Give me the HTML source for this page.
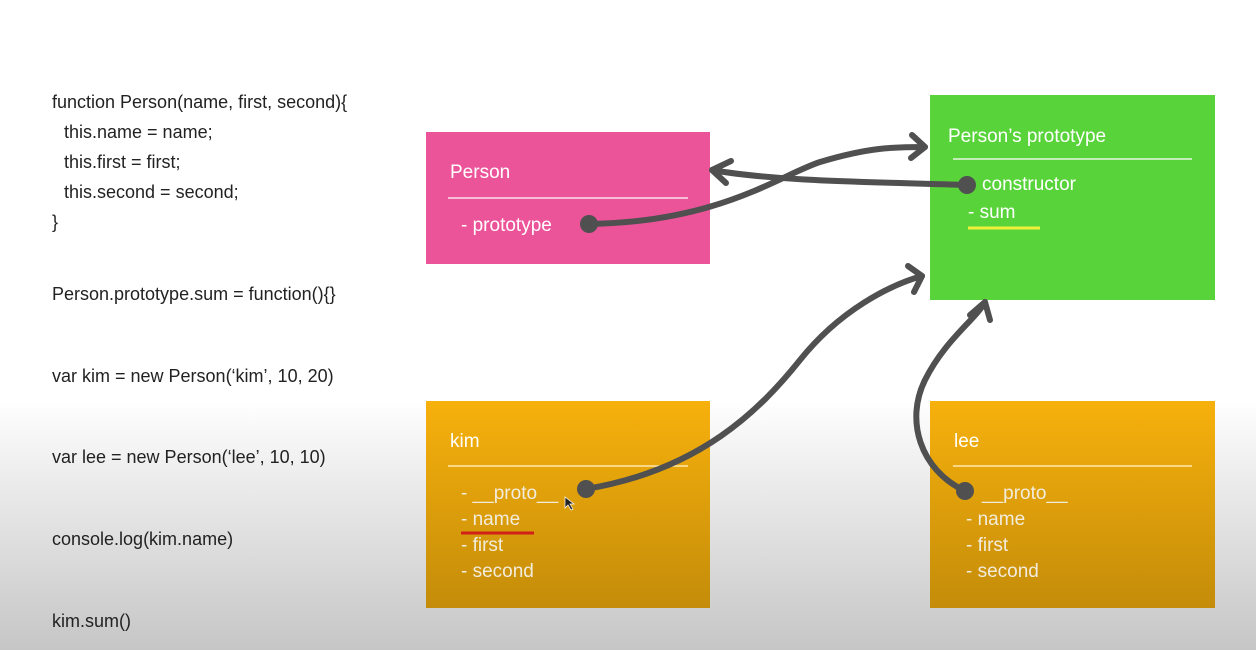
<!DOCTYPE html>
<html><head><meta charset="utf-8">
<style>
html,body{margin:0;padding:0;}
body{width:1256px;height:650px;overflow:hidden;background:linear-gradient(to bottom,#fff 0,#fff 400px,#ececec 480px,#c6c6c6 650px);font-family:"Liberation Sans",sans-serif;}
svg{position:absolute;left:0;top:0;}
</style></head><body>
<svg width="1256" height="650" viewBox="0 0 1256 650" font-family="Liberation Sans, sans-serif">
<defs>
<linearGradient id="og" x1="0" y1="0" x2="0" y2="1">
<stop offset="0" stop-color="#f7b10c"/><stop offset="1" stop-color="#c48c0a"/>
</linearGradient>
</defs>
<g font-size="18" fill="#222">
<text x="52" y="108">function Person(name, first, second){</text>
<text x="64" y="138">this.name = name;</text>
<text x="64" y="168">this.first = first;</text>
<text x="64" y="198">this.second = second;</text>
<text x="52" y="228">}</text>
<text x="52" y="300">Person.prototype.sum = function(){}</text>
<text x="52" y="382">var kim = new Person(‘kim’, 10, 20)</text>
<text x="52" y="463">var lee = new Person(‘lee’, 10, 10)</text>
<text x="52" y="545">console.log(kim.name)</text>
<text x="52" y="627">kim.sum()</text>
</g>
<!-- Person -->
<rect x="426" y="132" width="284" height="132" fill="#ec5499"/>
<text x="450" y="178" font-size="19" fill="#fff">Person</text>
<line x1="448" y1="198" x2="688" y2="198" stroke="#fbe0ec" stroke-width="1.5"/>
<text x="461" y="231" font-size="19" fill="#fff">- prototype</text>
<!-- Proto -->
<rect x="930" y="95" width="285" height="205" fill="#58d43a"/>
<text x="948" y="142" font-size="19" fill="#fff">Person’s prototype</text>
<line x1="953" y1="159" x2="1192" y2="159" stroke="#e6f8e0" stroke-width="1.5"/>
<text x="982" y="190" font-size="19" fill="#fff">constructor</text>
<text x="968" y="218" font-size="19" fill="#fff">- sum</text>
<line x1="968" y1="228" x2="1040" y2="228" stroke="#eef03a" stroke-width="3"/>
<!-- kim -->
<rect x="426" y="401" width="284" height="207" fill="url(#og)"/>
<text x="450" y="447" font-size="19" fill="#fff">kim</text>
<line x1="448" y1="466" x2="688" y2="466" stroke="#fde9b0" stroke-width="1.5"/>
<g font-size="19" fill="#f2ecdc">
<text x="461" y="499">- __proto__</text>
<text x="461" y="525">- name</text>
<text x="461" y="551">- first</text>
<text x="461" y="577">- second</text>
</g>
<line x1="461" y1="533" x2="534" y2="533" stroke="#d0201a" stroke-width="3"/>
<path d="M565 497 l0 11 l3 -3 l3 5 l2 -1 l-3 -5 l4 0 z" fill="#222" stroke="#fff" stroke-width="0.7"/>
<!-- lee -->
<rect x="930" y="401" width="285" height="207" fill="url(#og)"/>
<text x="954" y="447" font-size="19" fill="#fff">lee</text>
<line x1="953" y1="466" x2="1192" y2="466" stroke="#fde9b0" stroke-width="1.5"/>
<g font-size="19" fill="#f2ecdc">
<text x="982" y="499">__proto__</text>
<text x="966" y="525">- name</text>
<text x="966" y="551">- first</text>
<text x="966" y="577">- second</text>
</g>
<!-- connectors -->
<g stroke="#505050" stroke-width="6" fill="none" stroke-linecap="round" stroke-linejoin="round">
<path d="M589 224 C720 222 780 175 820 162 C870 147 895 147 925 147"/>
<path d="M912 135 L925 147 L911 158"/>
<path d="M966 185 C880 182 780 182 712 170"/>
<path d="M731 161 L712 170 L726 183"/>
<path d="M586 489 C700 470 760 410 800 360 C840 310 890 285 922 276"/>
<path d="M908 266 L922 276 L914 292"/>
<path d="M965 491 C920 470 905 420 925 380 C945 340 975 320 985 302"/>
<path d="M970 315 L985 302 L990 320"/>
</g>
<g fill="#505050">
<circle cx="589" cy="224" r="9"/>
<circle cx="967" cy="185" r="9"/>
<circle cx="586" cy="489" r="9"/>
<circle cx="965" cy="491" r="9"/>
</g>
</svg>
</body></html>
